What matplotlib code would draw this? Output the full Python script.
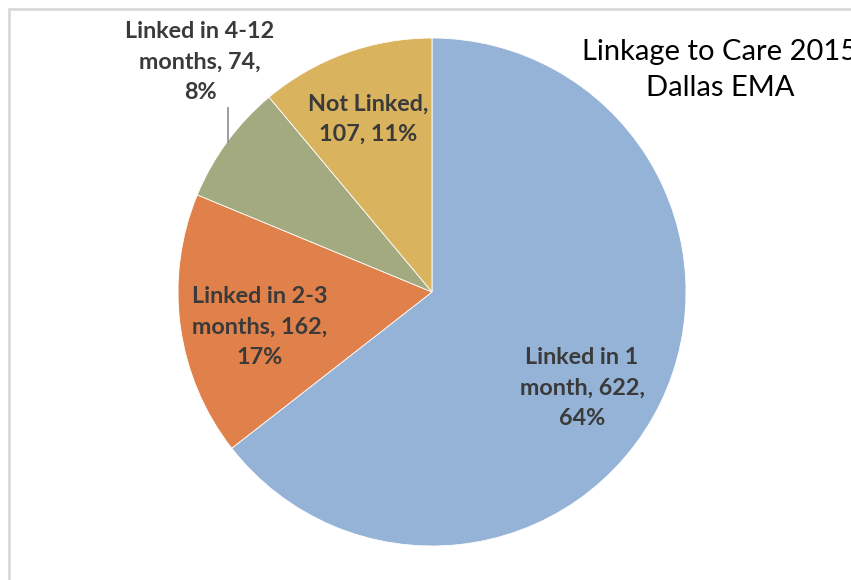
import matplotlib.pyplot as plt
import matplotlib.patches as patches

# 数据
categories = ['Linked in 1 month', 'Linked in 2-3 months', 'Linked in 4-12 months', 'Not Linked']
counts = [622, 162, 74, 107]
colors = ['#95B3D7', '#E0804A', '#A4AA80', '#D9B35E']

W, H = 851, 580

plt.rcParams['font.family'] = ['Lato', 'DejaVu Sans']

fig = plt.figure(figsize=(W / 100, H / 100), dpi=100)
ax = fig.add_axes([0, 0, 1, 1])


def py(y):
    # 像素坐标（向下）转换为坐标轴坐标（向上）
    return H - y


# 饼图，从12点方向顺时针
ax.pie(counts, colors=colors, startangle=90, counterclock=False,
       center=(432, py(292)), radius=254, frame=True,
       wedgeprops=dict(edgecolor='white', linewidth=0.6))
ax.set_xlim(0, W)
ax.set_ylim(0, H)
ax.set_aspect('equal')
ax.axis('off')

total = sum(counts)
pcts = [round(c / total * 100) for c in counts]

label_text = [
    f"Linked in 1\nmonth, {counts[0]},\n{pcts[0]}%",
    f"Linked in 2-3\nmonths, {counts[1]},\n{pcts[1]}%",
    f"Linked in 4-12\nmonths, {counts[2]},\n{pcts[2]}%",
    f"Not Linked,\n{counts[3]}, {pcts[3]}%",
]
label_pos = [(582, 388), (260, 327), (200, 62), (368, 119)]

for txt, (x, y) in zip(label_text, label_pos):
    ax.text(x, py(y), txt, ha='center', va='center', fontsize=16.8,
            fontweight='bold', color='#3A3A3A', linespacing=1.55)

# 引导线
ax.plot([228, 228], [py(108), py(142)], color='#8C8C8C', linewidth=1.2)

# 标题
ax.text(720, py(70), "Linkage to Care 2015\nDallas EMA", ha='center', va='center',
        fontsize=21, color='black', linespacing=1.5)

# 图表区边框（仅上边和左边可见）
frame = patches.Rectangle((9, -10), W + 20, py(9) + 10, fill=False,
                          edgecolor='#D9D9D9', linewidth=2)
ax.add_patch(frame)

fig.savefig('out.png', dpi=100)
